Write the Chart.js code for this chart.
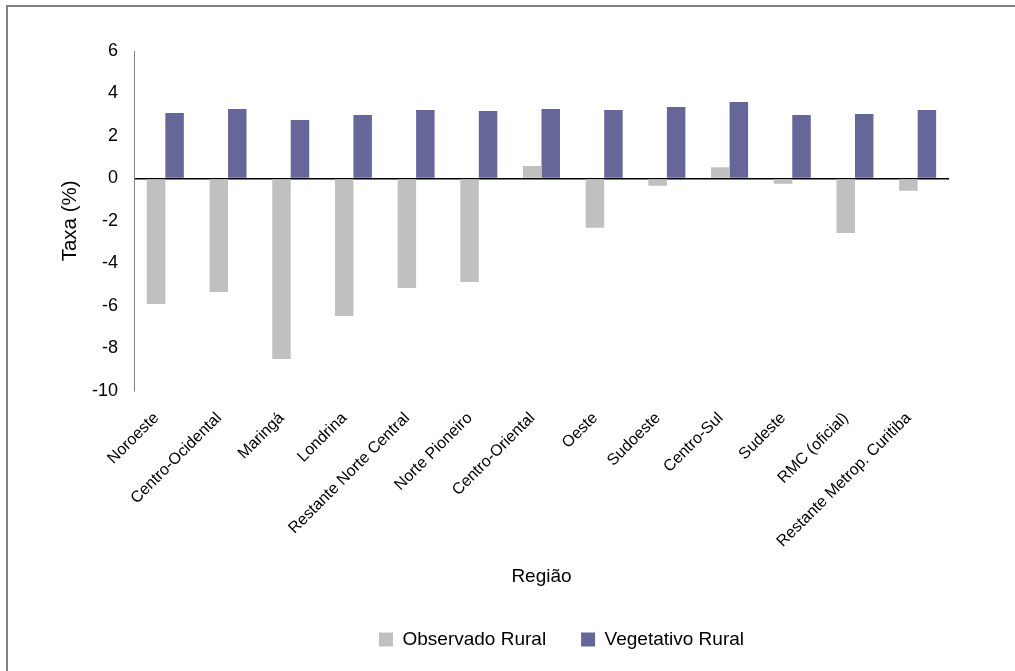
<!DOCTYPE html>
<html lang="pt">
  <head>
    <meta charset="UTF-8" />
    <title>Taxa rural por região</title>
    <script src="https://cdn.jsdelivr.net/npm/chart.js"></script>
    <style>
      html,
      body {
        margin: 0;
        padding: 0;
        background: #fff;
        overflow: hidden;
      }
      .frame {
        position: absolute;
        left: 6px;
        top: 5px;
        width: 1030px;
        height: 690px;
        border-left: 2px solid #808080;
        border-top: 2px solid #808080;
      }
      .chart-box {
        position: absolute;
        left: 0;
        top: 0;
        width: 1015px;
        height: 671px;
      }
    </style>
  </head>
  <body>
    <div class="frame"></div>
    <div class="chart-box">
      <canvas id="taxaChart"></canvas>
    </div>

    <script>
      const regioes = [
        "Noroeste",
        "Centro-Ocidental",
        "Maringá",
        "Londrina",
        "Restante Norte Central",
        "Norte Pioneiro",
        "Centro-Oriental",
        "Oeste",
        "Sudoeste",
        "Centro-Sul",
        "Sudeste",
        "RMC (oficial)",
        "Restante Metrop. Curitiba",
      ];
      const observadoRural = [
        -5.92, -5.35, -8.51, -6.48, -5.16, -4.88, 0.58, -2.33, -0.35, 0.53,
        -0.25, -2.57, -0.58,
      ];
      const vegetativoRural = [
        3.08, 3.27, 2.75, 2.98, 3.22, 3.17, 3.27, 3.22, 3.36, 3.6, 2.98,
        3.03, 3.22,
      ];
      const yTicks = [6, 4, 2, 0, -2, -4, -6, -8, -10];

      Chart.defaults.font.family = "'Liberation Sans', Arial, sans-serif";
      Chart.defaults.color = "#000";

      // shift the bottom legend to the right, it sits off-centre
      const legendShift = {
        id: "legendShift",
        afterLayout(chart) {
          chart.legend.left += 58;
          chart.legend.right += 58;
        },
      };

      new Chart(document.getElementById("taxaChart"), {
        type: "bar",
        data: {
          labels: regioes,
          datasets: [
            {
              label: "Observado Rural",
              data: observadoRural,
              backgroundColor: "#c0c0c0",
              categoryPercentage: 0.59,
              barPercentage: 1,
            },
            {
              label: "Vegetativo Rural",
              data: vegetativoRural,
              backgroundColor: "#666699",
              categoryPercentage: 0.59,
              barPercentage: 1,
            },
          ],
        },
        options: {
          responsive: true,
          maintainAspectRatio: false,
          animation: false,
          layout: {
            padding: { top: 51, left: 58, right: 66, bottom: 12 },
          },
          plugins: {
            legend: {
              position: "bottom",
              labels: {
                boxWidth: 14,
                boxHeight: 14,
                padding: 35,
                font: { size: 19 },
              },
            },
            tooltip: { enabled: false },
          },
          scales: {
            x: {
              grid: { display: false },
              border: { display: false },
              ticks: {
                autoSkip: false,
                minRotation: 45,
                maxRotation: 45,
                padding: 10,
                labelOffset: -9,
                font: { size: 16 },
              },
              title: {
                display: true,
                text: "Região",
                font: { size: 19 },
                padding: { top: 4, bottom: 7 },
              },
            },
            y: {
              min: -10,
              max: 6,
              afterBuildTicks: (scale) => {
                scale.ticks = yTicks.map((v) => ({ value: v }));
              },
              afterFit: (scale) => {
                scale.width = 76;
              },
              grid: {
                drawTicks: false,
                color: (ctx) =>
                  ctx.tick && ctx.tick.value === 0 ? "#000" : "rgba(0,0,0,0)",
                lineWidth: 1.5,
              },
              border: { color: "#808080", width: 1 },
              ticks: {
                padding: 16,
                font: { size: 18 },
              },
              title: {
                display: true,
                text: "Taxa (%)",
                font: { size: 20.5 },
                padding: { top: 0, bottom: 0 },
              },
            },
          },
        },
        plugins: [legendShift],
      });
    </script>
  </body>
</html>
